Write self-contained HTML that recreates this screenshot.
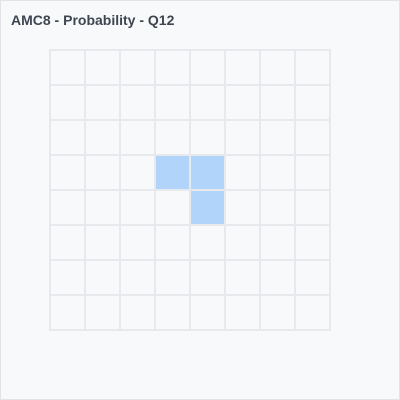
<!DOCTYPE html>
<html><head><style>
html,body{margin:0;padding:0}
body{width:400px;height:400px;overflow:hidden;background:#fff}
#card{position:absolute;left:0;top:0;width:398px;height:398px;border:1px solid #e1e3e7;background:#f8f9fb}
#title{position:absolute;left:10px;top:11px;font:bold 14px "Liberation Sans",sans-serif;color:#3f4650}
</style></head><body>
<div id="card">
<div id="title">AMC8 - Probability - Q12</div>
<svg id="g" width="400" height="400" style="position:absolute;left:-1px;top:-1px"></svg>
</div>
<script>
const rows = 8;
const cols = 8;
const highlightRows = [3, 3, 4];
const highlightCols = [3, 4, 4];
const x0 = 50, y0 = 50, cell = 35;
const sx = c => x0 + c * cell;
const sy = r => y0 + r * cell;
const svg = document.getElementById('g');
const NS = 'http://www.w3.org/2000/svg';
for (let r = 0; r < rows; r++) for (let c = 0; c < cols; c++) {
  const el = document.createElementNS(NS, 'rect');
  el.setAttribute('x', sx(c)); el.setAttribute('y', sy(r));
  el.setAttribute('width', cell); el.setAttribute('height', cell);
  el.setAttribute('fill', '#f8f9fb'); el.setAttribute('stroke', '#e8e9ec'); el.setAttribute('stroke-width', '2');
  
  
  svg.appendChild(el);
}
for (let i = 0; i < highlightRows.length; i++) {
  const el = document.createElementNS(NS, 'rect');
  el.setAttribute('x', sx(highlightCols[i]) + 1); el.setAttribute('y', sy(highlightRows[i]) + 1);
  el.setAttribute('width', cell - 2); el.setAttribute('height', cell - 2);
  el.setAttribute('fill', '#b0d4fa');
  
  
  svg.appendChild(el);
}
</script>
</body></html>
